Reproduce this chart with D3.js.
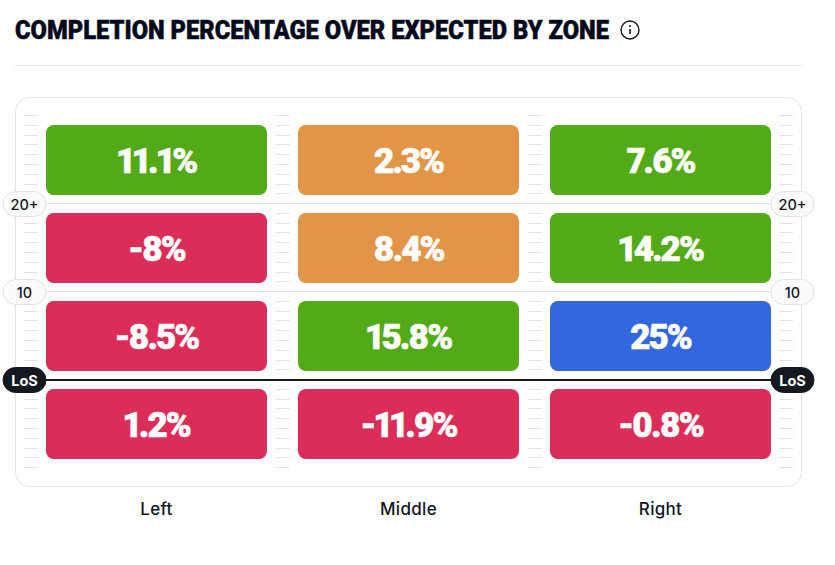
<!DOCTYPE html>
<html>
<head>
<meta charset="utf-8">
<title>Completion percentage over expected by zone</title>
<style>
  html, body { margin: 0; padding: 0; background: #fff; }
  svg { display: block; }
  text { font-family: Inter, 'Noto Sans', sans-serif; }
  .title { font-family: Roboto, sans-serif; font-size: 25px; font-weight: 900; fill: #040a1c; stroke: #040a1c; stroke-width: 0.5px; }
  .value { font-family: Roboto, sans-serif; font-size: 35px; font-weight: 900; fill: #fff; stroke: #fff; stroke-width: 0.6px; text-anchor: middle; letter-spacing: -2px; font-variant-numeric: proportional-nums; font-kerning: normal; }
  .zone { font-size: 17px; font-weight: 500; fill: #10141f; text-anchor: middle; letter-spacing: 0.3px; }
  .pill { font-size: 14.5px; font-weight: 500; fill: #14181f; text-anchor: middle; }
  .pill.los { fill: #fff; font-weight: 700; }
</style>
</head>
<body>
<div id="chart"></div>
<script src="https://d3js.org/d3.v7.min.js"></script>
<script>

var columns = ["Left", "Middle", "Right"];
var zoneTops = [30, 20, 10, 0]; // yards downfield at the top of each row
var values = [
  [11.1, 2.3, 7.6],
  [-8, 8.4, 14.2],
  [-8.5, 15.8, 25],
  [1.2, -11.9, -0.8]
];
var tiers = [
  ["good", "average", "good"],
  ["poor", "average", "good"],
  ["poor", "good", "elite"],
  ["poor", "poor", "poor"]
];
var yardLabels = [
  { yard: 20, label: "20+" },
  { yard: 10, label: "10" },
  { yard: 0, label: "LoS" }
];
var tierColors = { elite: "#3367dd", good: "#52ab16", average: "#e29547", poor: "#dc2d58" };

var width = 835, height = 565;

var svg = d3.select("#chart").append("svg")
  .attr("width", width)
  .attr("height", height);

var x = d3.scaleBand().domain(columns).range([46, 771]).paddingInner(31 / 252);
var y = d3.scaleLinear().domain([-10, 30]).range([468, 116]);
var rowHeight = y(0) - y(10) - 18;

// title
svg.append("text").attr("class", "title").attr("x", 15).attr("y", 39)
  .attr("textLength", 594)
  .attr("lengthAdjust", "spacingAndGlyphs")
  .text("COMPLETION PERCENTAGE OVER EXPECTED BY ZONE");

// info icon
var info = svg.append("g").attr("transform", "translate(630,30)");
info.append("circle").attr("r", 9).attr("fill", "none").attr("stroke", "#14181f").attr("stroke-width", 1.4);
info.append("line").attr("y1", -1).attr("y2", 4).attr("stroke", "#14181f").attr("stroke-width", 1.6);
info.append("circle").attr("cy", -4).attr("r", 1).attr("fill", "#14181f");

svg.append("line")
  .attr("x1", 15).attr("x2", 802).attr("y1", 65.5).attr("y2", 65.5)
  .attr("stroke", "#e2e2e8");

// panel
svg.append("rect")
  .attr("x", 15.5).attr("y", 97.5)
  .attr("width", 786).attr("height", 389)
  .attr("rx", 14)
  .attr("fill", "#fff")
  .attr("stroke", "#e2e2e8");

// ticks down the gutters, nine steps between labelled lines
var decades = [-10, 0, 10, 20];
var yards = [-10, 30];
decades.forEach(function (base) {
  d3.range(1, 9).forEach(function (k) { yards.push(base + k * 10 / 9); });
});
var gutters = [24, 276, 528, 779];
gutters.forEach(function (g) {
  svg.append("g").selectAll("line")
    .data(yards).enter()
    .append("line")
    .attr("x1", g).attr("x2", g + 14)
    .attr("y1", function (d) { return Math.floor(y(d) - 0.4) + 0.5; })
    .attr("y2", function (d) { return Math.floor(y(d) - 0.4) + 0.5; })
    .attr("stroke", "#e2e2e8");
});

// full width lines for the labelled yards
svg.selectAll(".yardLine")
  .data(yardLabels).enter()
  .append("line")
  .attr("class", "yardLine")
  .attr("x1", 24).attr("x2", 793)
  .attr("y1", function (d) { return d.yard === 0 ? y(0) : y(d.yard) - 0.5; })
  .attr("y2", function (d) { return d.yard === 0 ? y(0) : y(d.yard) - 0.5; })
  .attr("stroke", function (d) { return d.yard === 0 ? "#14181f" : "#e2e2e8"; })
  .attr("stroke-width", function (d) { return d.yard === 0 ? 2 : 1; });

// cells
var rows = svg.selectAll(".row")
  .data(values).enter()
  .append("g")
  .attr("class", "row")
  .attr("transform", function (d, i) { return "translate(0," + (y(zoneTops[i]) + 9) + ")"; });

rows.each(function (row, r) {
  var cell = d3.select(this).selectAll("g")
    .data(row).enter()
    .append("g")
    .attr("transform", function (d, c) { return "translate(" + x(columns[c]) + ",0)"; });

  cell.append("rect")
    .attr("width", x.bandwidth())
    .attr("height", rowHeight)
    .attr("rx", 8)
    .attr("fill", function (d, c) { return tierColors[tiers[r][c]]; });

  cell.append("text")
    .attr("class", "value")
    .attr("x", x.bandwidth() / 2)
    .attr("y", rowHeight / 2 + 12.5)
    .text(function (d) { return d + "%"; });
});

// yard pills on both sides
[24.5, 792.5].forEach(function (cx) {
  var pill = svg.append("g").selectAll("g")
    .data(yardLabels).enter()
    .append("g")
    .attr("transform", function (d) { return "translate(" + cx + "," + y(d.yard) + ")"; });

  pill.append("rect")
    .attr("x", -21.5).attr("y", -12.5)
    .attr("width", 43).attr("height", 25)
    .attr("rx", 12.5)
    .attr("fill", function (d) { return d.yard === 0 ? "#14181f" : "#fafafb"; })
    .attr("stroke", function (d) { return d.yard === 0 ? "#14181f" : "#e2e2e8"; });

  pill.append("text")
    .attr("class", function (d) { return d.yard === 0 ? "pill los" : "pill"; })
    .attr("y", 5.5)
    .text(function (d) { return d.label; });
});

// column labels
svg.selectAll(".zone")
  .data(columns).enter()
  .append("text")
  .attr("class", "zone")
  .attr("x", function (d) { return x(d) + x.bandwidth() / 2; })
  .attr("y", 515)
  .text(function (d) { return d; });

</script>
</body>
</html>
